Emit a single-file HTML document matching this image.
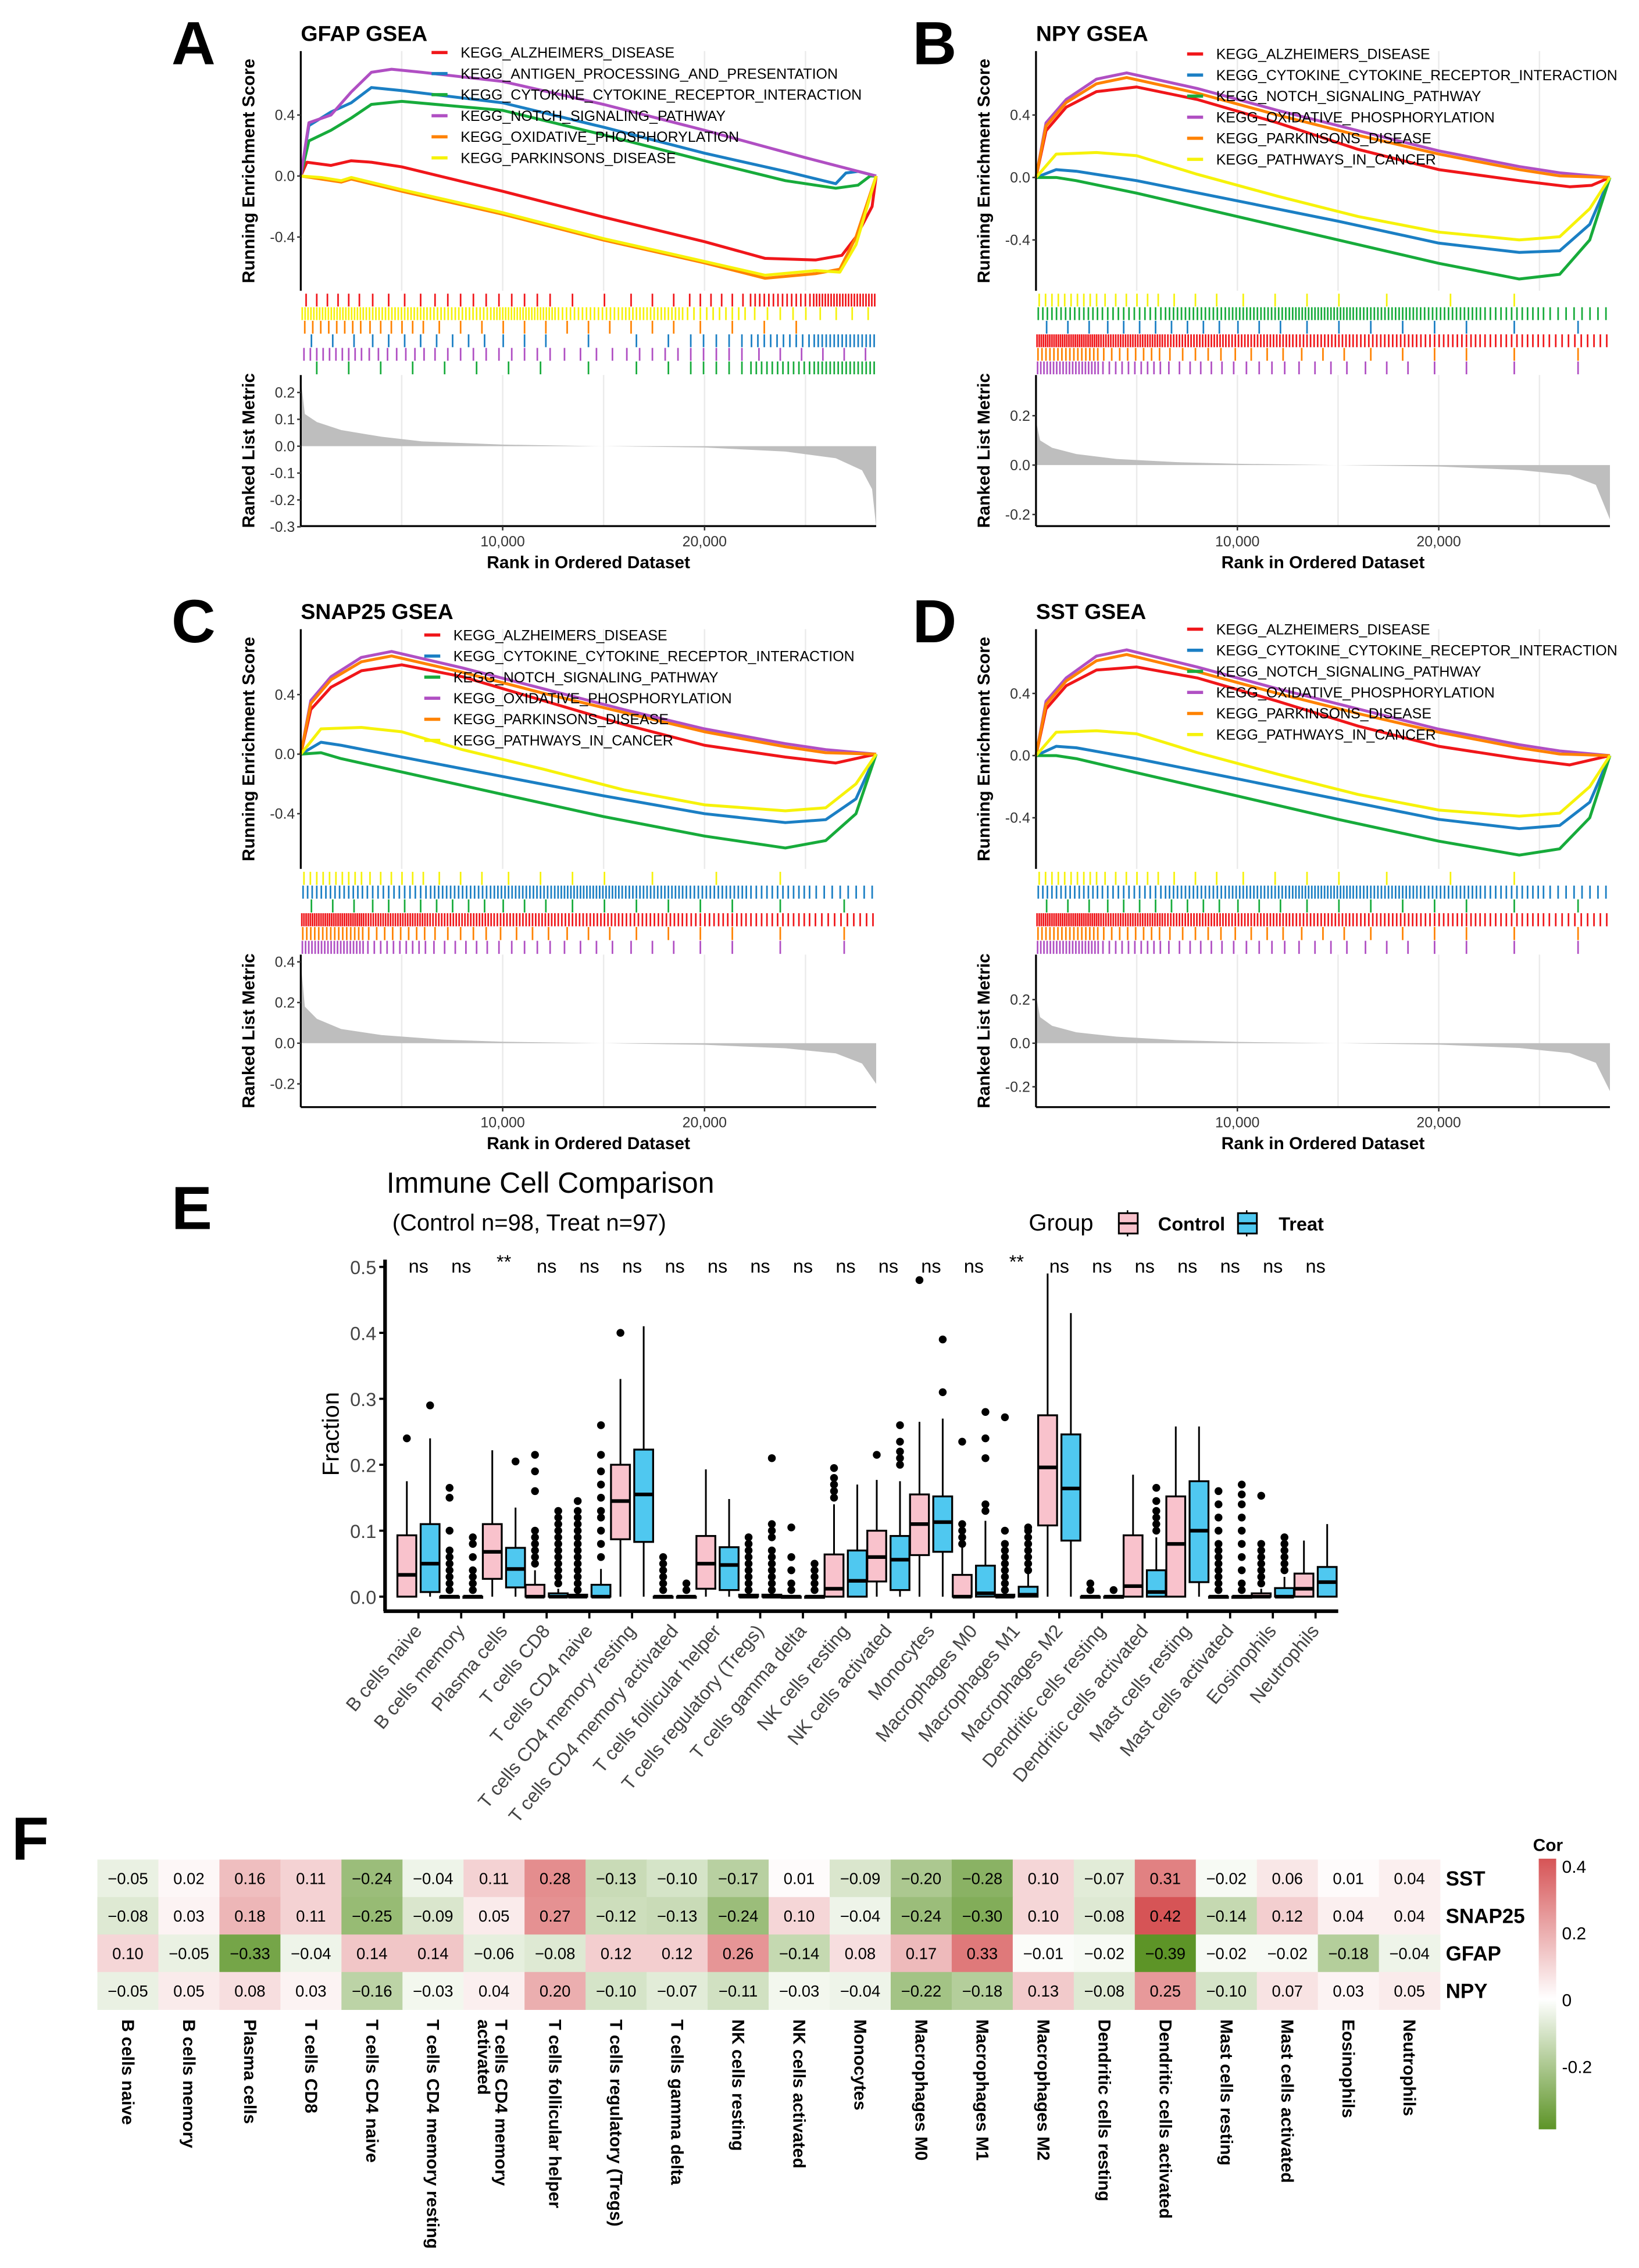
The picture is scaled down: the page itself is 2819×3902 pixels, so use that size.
<!DOCTYPE html>
<html><head><meta charset="utf-8"><style>
html,body{margin:0;padding:0;background:#fff;}
svg{display:block;font-family:"Liberation Sans",Arial,sans-serif;}
</style></head><body>
<svg id="fig" width="2819" height="3902" viewBox="0 0 1128 1561" xmlns="http://www.w3.org/2000/svg"></svg>
<script>
// ---------- DATA ----------
const rankMax = 28.5; // thousands
const gseaXTicks = [10, 20];
const gseaXTickLabels = ["10,000", "20,000"];
const esTicks = [0.4, 0.0, -0.4];
const esTickLabels = ["0.4", "0.0", "-0.4"];
// Panel A (GFAP)
const A_names = ["KEGG_ALZHEIMERS_DISEASE","KEGG_ANTIGEN_PROCESSING_AND_PRESENTATION","KEGG_CYTOKINE_CYTOKINE_RECEPTOR_INTERACTION","KEGG_NOTCH_SIGNALING_PATHWAY","KEGG_OXIDATIVE_PHOSPHORYLATION","KEGG_PARKINSONS_DISEASE"];
const A_alz = [[0,0],[0.3,0.09],[1.5,0.07],[2.5,0.1],[3.5,0.09],[5,0.06],[10,-0.1],[15,-0.27],[20,-0.43],[23,-0.54],[25.5,-0.55],[26.8,-0.52],[27.5,-0.4],[28.3,-0.2],[28.5,0]];
const A_antigen = [[0,0],[0.4,0.33],[1.5,0.42],[2.5,0.48],[3.5,0.58],[5,0.56],[10,0.48],[15,0.32],[20,0.15],[24,0.03],[26.5,-0.05],[27,0.02],[27.6,0.03],[28.5,0]];
const A_cytokine = [[0,0],[0.4,0.23],[1.5,0.3],[2.5,0.38],[3.5,0.47],[5,0.49],[10,0.43],[15,0.27],[20,0.1],[24,-0.03],[26.5,-0.08],[27.6,-0.06],[28.2,0.0],[28.5,0]];
const A_notch = [[0,0],[0.4,0.35],[1.5,0.4],[2.5,0.55],[3.5,0.68],[4.5,0.7],[6,0.68],[10,0.62],[15,0.47],[20,0.3],[25,0.12],[28.5,0]];
const A_oxphos = [[0,0],[1,-0.02],[2,-0.04],[2.5,-0.02],[5,-0.1],[10,-0.25],[15,-0.42],[20,-0.57],[23,-0.67],[25.5,-0.64],[26.7,-0.61],[27.5,-0.4],[28.5,0]];
const A_park = [[0,0],[1,-0.01],[2,-0.03],[2.5,-0.01],[5,-0.09],[10,-0.24],[15,-0.41],[20,-0.56],[23,-0.65],[25.5,-0.62],[26.7,-0.63],[27.5,-0.45],[28.5,0]];
const A_rugOrder = [0,5,4,1,3,2];
const A_rugDensity = [[6,4,5,5,2,3,6,14,22],[3,4,4,3,1,2,5,10,16],[2,2,2,2,1,2,5,12,16],[10,7,5,5,4,5,5,3,3],[8,6,3,3,3,3,2,2,0],[22,20,18,22,16,18,10,5,4]];
const A_metric = [[0,0.25],[0.2,0.12],[0.8,0.09],[2,0.06],[4,0.035],[6,0.018],[10,0.006],[15,0],[20,-0.005],[24,-0.02],[26.5,-0.045],[27.8,-0.09],[28.3,-0.16],[28.5,-0.3]];
const A_metricTicks = [0.2,0.1,0,-0.1,-0.2,-0.3];
const A_metricLabels = ["0.2","0.1","0.0","-0.1","-0.2","-0.3"];
// Panel B (NPY) and C/D
const B_names = ["KEGG_ALZHEIMERS_DISEASE","KEGG_CYTOKINE_CYTOKINE_RECEPTOR_INTERACTION","KEGG_NOTCH_SIGNALING_PATHWAY","KEGG_OXIDATIVE_PHOSPHORYLATION","KEGG_PARKINSONS_DISEASE","KEGG_PATHWAYS_IN_CANCER"];
const B_alz = [[0,0],[0.5,0.3],[1.5,0.45],[3,0.55],[5,0.58],[8,0.5],[12,0.35],[16,0.18],[20,0.05],[24,-0.02],[26.5,-0.06],[27.6,-0.05],[28.5,0]];
const B_cyto = [[0,0],[1,0.05],[2,0.04],[5,-0.02],[10,-0.15],[15,-0.28],[20,-0.42],[24,-0.48],[26,-0.47],[27.5,-0.3],[28.5,0]];
const B_notch = [[0,0],[1,0],[2,-0.02],[5,-0.1],[10,-0.25],[15,-0.4],[20,-0.55],[24,-0.65],[26,-0.62],[27.5,-0.4],[28.5,0]];
const B_oxphos = [[0,0],[0.5,0.35],[1.5,0.5],[3,0.63],[4.5,0.67],[8,0.57],[12,0.43],[16,0.3],[20,0.17],[24,0.07],[26,0.03],[28.5,0]];
const B_park = [[0,0],[0.5,0.33],[1.5,0.48],[3,0.6],[4.5,0.64],[8,0.54],[12,0.4],[16,0.27],[20,0.15],[24,0.05],[26,0.01],[28.5,0]];
const B_cancer = [[0,0],[1,0.15],[3,0.16],[5,0.14],[8,0.02],[12,-0.12],[16,-0.25],[20,-0.35],[24,-0.4],[26,-0.38],[27.5,-0.2],[28.5,0]];
const B_rugOrder = [5,2,1,0,4,3];
const B_rugDensity = [[30,26,22,20,18,16,14,12,10],[3,4,4,3,2,2,2,1,1],[14,12,16,18,20,18,16,12,8],[20,10,6,5,4,3,2,1,1],[16,8,5,4,3,2,2,1,1],[10,6,3,2,2,1,1,1,0]];
const B_metric = [[0,0.18],[0.2,0.1],[0.8,0.07],[2,0.045],[4,0.025],[7,0.012],[10,0.005],[15,0],[20,-0.006],[24,-0.02],[26.5,-0.04],[27.8,-0.08],[28.5,-0.22]];
const B_metricTicks = [0.2,0,-0.2];
const B_metricLabels = ["0.2","0.0","-0.2"];
const C_alz = [[0,0],[0.5,0.3],[1.5,0.45],[3,0.56],[5,0.6],[8,0.52],[12,0.36],[16,0.2],[20,0.06],[24,-0.02],[26.5,-0.06],[28.5,0]];
const C_cyto = [[0,0],[1,0.08],[2,0.06],[5,-0.02],[10,-0.15],[15,-0.28],[20,-0.4],[24,-0.46],[26,-0.44],[27.5,-0.3],[28.5,0]];
const C_notch = [[0,0],[1,0.01],[2,-0.03],[5,-0.12],[10,-0.27],[15,-0.42],[20,-0.55],[24,-0.63],[26,-0.58],[27.5,-0.4],[28.5,0]];
const C_oxphos = [[0,0],[0.5,0.36],[1.5,0.52],[3,0.65],[4.5,0.69],[8,0.58],[12,0.44],[16,0.3],[20,0.17],[24,0.07],[26,0.03],[28.5,0]];
const C_park = [[0,0],[0.5,0.34],[1.5,0.5],[3,0.62],[4.5,0.66],[8,0.55],[12,0.41],[16,0.28],[20,0.15],[24,0.05],[26,0.01],[28.5,0]];
const C_cancer = [[0,0],[1,0.17],[3,0.18],[5,0.15],[8,0.03],[12,-0.1],[16,-0.24],[20,-0.34],[24,-0.38],[26,-0.36],[27.5,-0.2],[28.5,0]];
const C_rugOrder = [5,1,2,0,4,3];
const C_rugDensity = [[30,26,22,20,18,16,14,12,10],[14,12,16,18,20,18,16,12,8],[3,4,4,3,2,2,2,1,1],[20,10,6,5,4,3,2,1,1],[16,8,5,4,3,2,2,1,1],[10,6,3,2,2,1,1,1,0]];
const C_metric = [[0,0.4],[0.2,0.18],[0.8,0.12],[2,0.07],[4,0.04],[7,0.018],[10,0.007],[15,0],[20,-0.008],[24,-0.025],[26.5,-0.05],[27.8,-0.1],[28.5,-0.2]];
const C_metricTicks = [0.4,0.2,0,-0.2];
const C_metricLabels = ["0.4","0.2","0.0","-0.2"];
const D_alz = [[0,0],[0.5,0.3],[1.5,0.45],[3,0.55],[5,0.57],[8,0.5],[12,0.35],[16,0.19],[20,0.06],[24,-0.02],[26.5,-0.06],[28.5,0]];
const D_cyto = [[0,0],[1,0.06],[2,0.05],[5,-0.02],[10,-0.15],[15,-0.28],[20,-0.41],[24,-0.47],[26,-0.45],[27.5,-0.3],[28.5,0]];
const D_notch = [[0,0],[1,0],[2,-0.02],[5,-0.11],[10,-0.26],[15,-0.41],[20,-0.55],[24,-0.64],[26,-0.6],[27.5,-0.4],[28.5,0]];
const D_oxphos = [[0,0],[0.5,0.35],[1.5,0.5],[3,0.64],[4.5,0.68],[8,0.57],[12,0.43],[16,0.3],[20,0.17],[24,0.07],[26,0.03],[28.5,0]];
const D_park = [[0,0],[0.5,0.33],[1.5,0.48],[3,0.61],[4.5,0.65],[8,0.54],[12,0.4],[16,0.27],[20,0.15],[24,0.05],[26,0.01],[28.5,0]];
const D_cancer = [[0,0],[1,0.15],[3,0.16],[5,0.14],[8,0.02],[12,-0.12],[16,-0.25],[20,-0.35],[24,-0.39],[26,-0.37],[27.5,-0.2],[28.5,0]];
const D_metric = [[0,0.22],[0.2,0.12],[0.8,0.08],[2,0.05],[4,0.03],[7,0.014],[10,0.006],[15,0],[20,-0.007],[24,-0.022],[26.5,-0.045],[27.8,-0.09],[28.5,-0.22]];
const D_metricTicks = [0.2,0,-0.2];
const D_metricLabels = ["0.2","0.0","-0.2"];

// Panel E
const cellTypes = ["B cells naive","B cells memory","Plasma cells","T cells CD8","T cells CD4 naive","T cells CD4 memory resting","T cells CD4 memory activated","T cells follicular helper","T cells regulatory (Tregs)","T cells gamma delta","NK cells resting","NK cells activated","Monocytes","Macrophages M0","Macrophages M1","Macrophages M2","Dendritic cells resting","Dendritic cells activated","Mast cells resting","Mast cells activated","Eosinophils","Neutrophils"];
const sigLabels = ["ns","ns","**","ns","ns","ns","ns","ns","ns","ns","ns","ns","ns","ns","**","ns","ns","ns","ns","ns","ns","ns"];
// [whiskerLow, q1, median, q3, whiskerHigh]
const controlStats = [[0,0,0.033,0.093,0.175],[0,0,0,0,0],[0,0.027,0.068,0.11,0.222],[0,0,0,0.018,0.04],[0,0,0,0.003,0.008],[0,0.087,0.145,0.2,0.33],[0,0,0,0,0],[0,0.012,0.05,0.092,0.193],[0,0,0,0.003,0.008],[0,0,0,0,0],[0,0,0.012,0.064,0.14],[0,0.023,0.06,0.1,0.177],[0,0.063,0.11,0.155,0.265],[0,0,0,0.033,0.075],[0,0,0,0.003,0.008],[0,0.108,0.196,0.275,0.49],[0,0,0,0,0],[0,0,0.016,0.093,0.185],[0,0,0.08,0.152,0.258],[0,0,0,0,0],[0,0,0,0.005,0.012],[0,0,0.012,0.035,0.085]];
const treatStats = [[0,0.007,0.05,0.11,0.24],[0,0,0,0,0],[0,0.014,0.042,0.074,0.135],[0,0,0,0.005,0.012],[0,0,0,0.018,0.042],[0,0.083,0.155,0.223,0.41],[0,0,0,0,0],[0,0.01,0.048,0.075,0.148],[0,0,0,0.003,0.008],[0,0,0,0,0],[0,0,0.024,0.07,0.17],[0,0.01,0.056,0.092,0.175],[0,0.068,0.113,0.152,0.27],[0,0,0.005,0.047,0.115],[0,0,0.003,0.015,0.035],[0,0.085,0.164,0.246,0.43],[0,0,0,0,0],[0,0,0.007,0.04,0.09],[0,0.022,0.1,0.175,0.258],[0,0,0,0,0],[0,0,0,0.013,0.03],[0,0,0.022,0.045,0.11]];
const controlOutliers = [[0.24],[0.01,0.02,0.03,0.04,0.05,0.06,0.07,0.1,0.15,0.165],[],[0.05,0.06,0.07,0.08,0.09,0.1,0.16,0.19,0.215],[0.01,0.02,0.03,0.04,0.05,0.06,0.07,0.08,0.09,0.1,0.11,0.12,0.13,0.145],[0.4],[0.01,0.02,0.03,0.04,0.05,0.06],[],[0.01,0.02,0.03,0.04,0.05,0.06,0.07,0.08,0.09],[0.01,0.02,0.04,0.06,0.105],[0.15,0.16,0.17,0.18,0.195],[0.215],[0.48],[0.08,0.09,0.1,0.11,0.235],[0.01,0.02,0.03,0.04,0.05,0.06,0.07,0.08,0.1,0.272],[],[0.01,0.02],[],[],[0.01,0.02,0.03,0.04,0.05,0.06,0.07,0.08,0.1,0.12,0.14,0.16],[0.02,0.03,0.04,0.05,0.06,0.07,0.08,0.153],[]];
const treatOutliers = [[0.29],[0.01,0.02,0.03,0.04,0.06,0.08,0.09],[0.205],[0.02,0.03,0.04,0.05,0.06,0.07,0.08,0.09,0.1,0.11,0.12,0.13],[0.06,0.08,0.1,0.12,0.13,0.15,0.17,0.19,0.215,0.26],[],[0.01,0.02],[],[0.01,0.02,0.03,0.04,0.05,0.06,0.07,0.09,0.1,0.11,0.21],[0.01,0.02,0.03,0.04,0.05],[],[0.2,0.21,0.22,0.235,0.26],[0.31,0.39],[0.13,0.14,0.21,0.24,0.28],[0.04,0.05,0.06,0.07,0.08,0.09,0.1,0.105],[],[0.01],[0.1,0.11,0.12,0.13,0.145,0.165],[],[0.01,0.02,0.04,0.06,0.08,0.1,0.12,0.14,0.155,0.17],[0.04,0.05,0.06,0.07,0.08,0.09],[]];
const fracTicks = [0,0.1,0.2,0.3,0.4,0.5];
const fracTickLabels = ["0.0","0.1","0.2","0.3","0.4","0.5"];

// Panel F
const genes = ["SST","SNAP25","GFAP","NPY"];
const corSST = [-0.05,0.02,0.16,0.11,-0.24,-0.04,0.11,0.28,-0.13,-0.10,-0.17,0.01,-0.09,-0.20,-0.28,0.10,-0.07,0.31,-0.02,0.06,0.01,0.04];
const corSNAP25 = [-0.08,0.03,0.18,0.11,-0.25,-0.09,0.05,0.27,-0.12,-0.13,-0.24,0.10,-0.04,-0.24,-0.30,0.10,-0.08,0.42,-0.14,0.12,0.04,0.04];
const corGFAP = [0.10,-0.05,-0.33,-0.04,0.14,0.14,-0.06,-0.08,0.12,0.12,0.26,-0.14,0.08,0.17,0.33,-0.01,-0.02,-0.39,-0.02,-0.02,-0.18,-0.04];
const corNPY = [-0.05,0.05,0.08,0.03,-0.16,-0.03,0.04,0.20,-0.10,-0.07,-0.11,-0.03,-0.04,-0.22,-0.18,0.13,-0.08,0.25,-0.10,0.07,0.03,0.05];
const corTicks = [0.4,0.2,0,-0.2];
const corTickLabels = ["0.4","0.2","0","-0.2"];

// ---------- DRAW ----------
const NS = "http://www.w3.org/2000/svg";
const svg = document.getElementById('fig');
function mk(tag, attrs, parent, text){
  const e = document.createElementNS(NS, tag);
  for (const k in attrs) e.setAttribute(k, attrs[k]);
  if (text !== undefined) e.textContent = text;
  (parent || svg).appendChild(e);
  return e;
}
const colors = {red:"#f0161a",blue:"#1b7fc4",green:"#17ab3b",purple:"#b04fc3",orange:"#ff8200",yellow:"#f6f20a"};

function gsea(cfg){
  const g = mk('g', {});
  
  
  const xs = r => cfg.x0 + r / rankMax * (cfg.x1 - cfg.x0);
  const ys = v => cfg.es0 - v * cfg.esK;
  const ms = v => cfg.m0 - v * cfg.mK;
  [5,10,15,20,25].forEach(r => {
    const gl = mk('line', {x1:xs(r),x2:xs(r),y1:cfg.esTop,y2:cfg.esBot,stroke:"#ebebeb","stroke-width":1}, g);
    
    
    const gl2 = mk('line', {x1:xs(r),x2:xs(r),y1:cfg.mTop,y2:cfg.mBot,stroke:"#ebebeb","stroke-width":1}, g);
    
    
  });
  const L = mk('text', {x:cfg.letterX,y:cfg.esTop+9,"font-size":42,"font-weight":"bold"}, g, cfg.letter);
  
  
  const T = mk('text', {x:cfg.x0,y:cfg.esTop-7,"font-size":15,"font-weight":"bold"}, g, cfg.title);
  
  
  cfg.series.forEach((s, i) => {
    const d = s.data.map((p, j) => (j ? 'L' : 'M') + xs(p[0]).toFixed(1) + ',' + ys(p[1]).toFixed(1)).join('');
    const p = mk('path', {d:d,fill:"none",stroke:colors[s.color],"stroke-width":2,"stroke-linejoin":"round"}, g);
    
    
  });
  const ax = mk('line', {x1:cfg.x0,x2:cfg.x0,y1:cfg.esTop,y2:cfg.esBot,stroke:"#000","stroke-width":1.3}, g);
  
  
  esTicks.forEach((t, i) => {
    const tl = mk('text', {x:cfg.x0-4,y:ys(t)+3.5,"font-size":10,"text-anchor":"end",fill:"#333"}, g, esTickLabels[i]);
    
    
    mk('line', {x1:cfg.x0-2.5,x2:cfg.x0,y1:ys(t),y2:ys(t),stroke:"#333"}, g);
  });
  const yt = mk('text', {transform:`translate(${cfg.x0-32},${(cfg.esTop+cfg.esBot)/2}) rotate(-90)`,"font-size":12,"font-weight":"bold","text-anchor":"middle"}, g, "Running Enrichment Score");
  
  
  cfg.series.forEach((s, i) => {
    const ly = cfg.legY + i * 14.5;
    const ll = mk('line', {x1:cfg.legX,x2:cfg.legX+11,y1:ly,y2:ly,stroke:colors[s.color],"stroke-width":2.2}, g);
    
    
    const lt = mk('text', {x:cfg.legX+20,y:ly+3.5,"font-size":10}, g, cfg.names[i]);
    
    
  });
  const rowH = (cfg.mTop - cfg.esBot - 2) / 6;
  const binW = rankMax / cfg.rugDensity[0].length;
  cfg.rugOrder.forEach((si, row) => {
    const dens = cfg.rugDensity[si];
    const col = colors[cfg.series[si].color];
    const y1 = cfg.esBot + 2 + row * rowH;
    dens.forEach((n, b) => {
      for (let k = 0; k < n; k++) {
        const r = b * binW + (k + 0.5) * binW / n;
        const h = mk('line', {x1:xs(r),x2:xs(r),y1:y1,y2:y1+rowH-0.5,stroke:col,"stroke-width":1.1}, g);
        
        
      }
    });
  });
  const md = 'M' + xs(0) + ',' + ms(0) + cfg.metric.map(p => 'L' + xs(p[0]).toFixed(1) + ',' + ms(p[1]).toFixed(1)).join('') + 'L' + xs(rankMax) + ',' + ms(0) + 'Z';
  const ma = mk('path', {d:md,fill:"#bebebe",stroke:"none"}, g);
  
  
  const may = mk('line', {x1:cfg.x0,x2:cfg.x0,y1:cfg.mTop,y2:cfg.mBot,stroke:"#000","stroke-width":1.3}, g);
  
  
  const max = mk('line', {x1:cfg.x0,x2:cfg.x1,y1:cfg.mBot,y2:cfg.mBot,stroke:"#000","stroke-width":1.3}, g);
  
  
  cfg.mTicks.forEach((t, i) => {
    const tl = mk('text', {x:cfg.x0-4,y:ms(t)+3.5,"font-size":10,"text-anchor":"end",fill:"#333"}, g, cfg.mLabels[i]);
    
    
    mk('line', {x1:cfg.x0-2.5,x2:cfg.x0,y1:ms(t),y2:ms(t),stroke:"#333"}, g);
  });
  gseaXTicks.forEach((t, i) => {
    mk('line', {x1:xs(t),x2:xs(t),y1:cfg.mBot,y2:cfg.mBot+3,stroke:"#333"}, g);
    const tl = mk('text', {x:xs(t),y:cfg.mBot+14,"font-size":10,"text-anchor":"middle",fill:"#333"}, g, gseaXTickLabels[i]);
    
    
  });
  const mt = mk('text', {transform:`translate(${cfg.x0-32},${(cfg.mTop+cfg.mBot)/2}) rotate(-90)`,"font-size":12,"font-weight":"bold","text-anchor":"middle"}, g, "Ranked List Metric");
  
  
  const xt = mk('text', {x:(cfg.x0+cfg.x1)/2,y:cfg.mBot+29,"font-size":12,"font-weight":"bold","text-anchor":"middle"}, g, "Rank in Ordered Dataset");
  
  
}

gsea({name:'panel-a-gfap-gsea',letter:'A',letterX:118,title:'GFAP GSEA',x0:207,x1:603,esTop:35,esBot:200,es0:121,esK:105,mTop:258,mBot:362,m0:307,mK:185,legX:297,legY:36,names:A_names,
  series:[{data:A_alz,color:'red'},{data:A_antigen,color:'blue'},{data:A_cytokine,color:'green'},{data:A_notch,color:'purple'},{data:A_oxphos,color:'orange'},{data:A_park,color:'yellow'}],
  rugOrder:A_rugOrder,rugDensity:A_rugDensity,metric:A_metric,mTicks:A_metricTicks,mLabels:A_metricLabels});
gsea({name:'panel-b-npy-gsea',letter:'B',letterX:628,title:'NPY GSEA',x0:713,x1:1108,esTop:35,esBot:200,es0:122,esK:107.5,mTop:258,mBot:362,m0:320,mK:170,legX:817,legY:37,names:B_names,
  series:[{data:B_alz,color:'red'},{data:B_cyto,color:'blue'},{data:B_notch,color:'green'},{data:B_oxphos,color:'purple'},{data:B_park,color:'orange'},{data:B_cancer,color:'yellow'}],
  rugOrder:B_rugOrder,rugDensity:B_rugDensity,metric:B_metric,mTicks:B_metricTicks,mLabels:B_metricLabels});
gsea({name:'panel-c-snap25-gsea',letter:'C',letterX:118,title:'SNAP25 GSEA',x0:207,x1:603,esTop:433,esBot:598,es0:519,esK:102.5,mTop:657,mBot:762,m0:718,mK:140,legX:292,legY:437,names:B_names,
  series:[{data:C_alz,color:'red'},{data:C_cyto,color:'blue'},{data:C_notch,color:'green'},{data:C_oxphos,color:'purple'},{data:C_park,color:'orange'},{data:C_cancer,color:'yellow'}],
  rugOrder:C_rugOrder,rugDensity:C_rugDensity,metric:C_metric,mTicks:C_metricTicks,mLabels:C_metricLabels});
gsea({name:'panel-d-sst-gsea',letter:'D',letterX:628,title:'SST GSEA',x0:713,x1:1108,esTop:433,esBot:598,es0:520,esK:107,mTop:657,mBot:762,m0:718,mK:150,legX:817,legY:433,names:B_names,
  series:[{data:D_alz,color:'red'},{data:D_cyto,color:'blue'},{data:D_notch,color:'green'},{data:D_oxphos,color:'purple'},{data:D_park,color:'orange'},{data:D_cancer,color:'yellow'}],
  rugOrder:C_rugOrder,rugDensity:C_rugDensity,metric:D_metric,mTicks:D_metricTicks,mLabels:D_metricLabels});

// ----- Panel E -----
(function(){
  const g = mk('g', {transform:'translate(0,-5)'});
  
  
  const yv = v => 1104 - v * 454;
  const xc = i => 288 + i * 29.4;
  const L = mk('text', {x:118,y:851,"font-size":42,"font-weight":"bold"}, g, 'E');
  
  
  const t1 = mk('text', {x:266,y:826,"font-size":20}, g, 'Immune Cell Comparison');
  
  
  const t2 = mk('text', {x:270,y:852,"font-size":16}, g, '(Control n=98, Treat n=97)');
  
  
  const lg = mk('text', {x:708,y:852,"font-size":16}, g, 'Group');
  
  
  [[770,'#f9c2cc','Control',797],[852,'#4fc8f0','Treat',880]].forEach(l => {
    mk('line', {x1:l[0]+6,x2:l[0]+6,y1:838,y2:856,stroke:'#000'}, g);
    const r = mk('rect', {x:l[0],y:840,width:13,height:14,fill:l[1],stroke:'#000','stroke-width':1.2}, g);
    
    
    mk('line', {x1:l[0],x2:l[0]+13,y1:847,y2:847,stroke:'#000','stroke-width':1.5}, g);
    const tt = mk('text', {x:l[3],y:852,"font-size":13,"font-weight":"bold"}, g, l[2]);
    
    
  });
  const ya = mk('line', {x1:265,x2:265,y1:872,y2:1114,stroke:'#000','stroke-width':2.5}, g);
  
  
  const xa = mk('line', {x1:264,x2:921,y1:1114,y2:1114,stroke:'#000','stroke-width':2.5}, g);
  
  
  fracTicks.forEach((t, i) => {
    mk('line', {x1:261,x2:265,y1:yv(t),y2:yv(t),stroke:'#000','stroke-width':1.5}, g);
    const tl = mk('text', {x:259,y:yv(t)+5,"font-size":13,"text-anchor":"end",fill:'#444'}, g, fracTickLabels[i]);
    
    
  });
  const yt = mk('text', {transform:'translate(233,992) rotate(-90)',"font-size":16,"text-anchor":"middle"}, g, 'Fraction');
  
  
  function box(cx, st, outs, fill, name){
    const w = mk('line', {x1:cx,x2:cx,y1:yv(st[0]),y2:yv(st[4]),stroke:'#000','stroke-width':1.2}, g);
    
    
    const r = mk('rect', {x:cx-6.5,y:yv(st[3]),width:13,height:Math.max(0.8,yv(st[1])-yv(st[3])),fill:fill,stroke:'#000','stroke-width':1.3}, g);
    
    
    const m = mk('line', {x1:cx-6.5,x2:cx+6.5,y1:yv(st[2]),y2:yv(st[2]),stroke:'#000','stroke-width':2.5}, g);
    
    
    outs.forEach(o => {
      const c = mk('circle', {cx:cx,cy:yv(o),r:2.7,fill:'#000'}, g);
      
      
    });
  }
  cellTypes.forEach((ct, i) => {
    const cx = xc(i);
    box(cx - 8, controlStats[i], controlOutliers[i], '#f9c2cc', 'control');
    box(cx + 8, treatStats[i], treatOutliers[i], '#4fc8f0', 'treat');
    mk('line', {x1:cx,x2:cx,y1:1114,y2:1119,stroke:'#000','stroke-width':1.5}, g);
    const s = mk('text', {x:cx,y:sigLabels[i]==='**'?878:881,"font-size":13,"text-anchor":"middle"}, g, sigLabels[i]);
    
    
    const xl = mk('text', {transform:`translate(${cx+3},${1128}) rotate(-50)`,"font-size":13,"text-anchor":"end",fill:'#444'}, g, ct);
    
    
  });
})();

// ----- Panel F -----
(function(){
  const g = mk('g', {transform:'translate(0,-6)'});
  
  
  const L = mk('text', {x:8,y:1286,"font-size":42,"font-weight":"bold"}, g, 'F');
  
  
  const x0 = 67, cw = 42, y0 = 1286, rh = 25.8;
  function col(v){
    const t = Math.min(1, Math.abs(v) / 0.42);
    const c = v >= 0 ? [214,84,86] : [80,140,22];
    const mix = (a) => Math.round(255 + (a - 255) * t);
    return `rgb(${mix(c[0])},${mix(c[1])},${mix(c[2])})`;
  }
  const rows = [corSST, corSNAP25, corGFAP, corNPY];
  rows.forEach((row, r) => {
    row.forEach((v, c) => {
      const rc = mk('rect', {x:x0+c*cw,y:y0+r*rh,width:cw+0.3,height:rh+0.3,fill:col(v)}, g);
      
      
      const tx = mk('text', {x:x0+c*cw+cw/2,y:y0+r*rh+rh/2+4,"font-size":11,"text-anchor":"middle"}, g, (v<0?'\u2212':'') + Math.abs(v).toFixed(2));
      
      
    });
    const gl = mk('text', {x:x0+22*cw+4,y:y0+r*rh+rh/2+5,"font-size":14,"font-weight":"bold"}, g, genes[r]);
    
    
  });
  cellTypes.forEach((ct, c) => {
    const cx = x0 + c*cw + cw/2;
    if (ct === 'T cells CD4 memory activated') {
      const a = mk('text', {transform:`translate(${cx+1},1396) rotate(90)`,"font-size":12,"font-weight":"bold"}, g, 'T cells CD4 memory');
      
      
      const b = mk('text', {transform:`translate(${cx-11},1396) rotate(90)`,"font-size":12,"font-weight":"bold"}, g, 'activated');
      
      
    } else {
      const a = mk('text', {transform:`translate(${cx-4},1396) rotate(90)`,"font-size":12,"font-weight":"bold"}, g, ct);
      
      
    }
  });
  const cy = v => 1382 - v * 230;
  const defs = mk('defs', {}, g);
  const lgd = mk('linearGradient', {id:'cbar',x1:0,y1:0,x2:0,y2:1}, defs);
  [0.42,0.2,0,-0.2,-0.39].forEach(v => {
    mk('stop', {offset:((cy(v)-cy(0.42))/(cy(-0.39)-cy(0.42))).toFixed(3),'stop-color':col(v)}, lgd);
  });
  const cb = mk('rect', {x:1059,y:cy(0.42),width:12,height:cy(-0.39)-cy(0.42),fill:'url(#cbar)'}, g);
  
  
  const ct = mk('text', {x:1055,y:1280,"font-size":12,"font-weight":"bold"}, g, 'Cor');
  
  
  corTicks.forEach((t, i) => {
    const tl = mk('text', {x:1075,y:cy(t)+5,"font-size":12}, g, corTickLabels[i]);
    
    
  });
})();
</script>
</body></html>
